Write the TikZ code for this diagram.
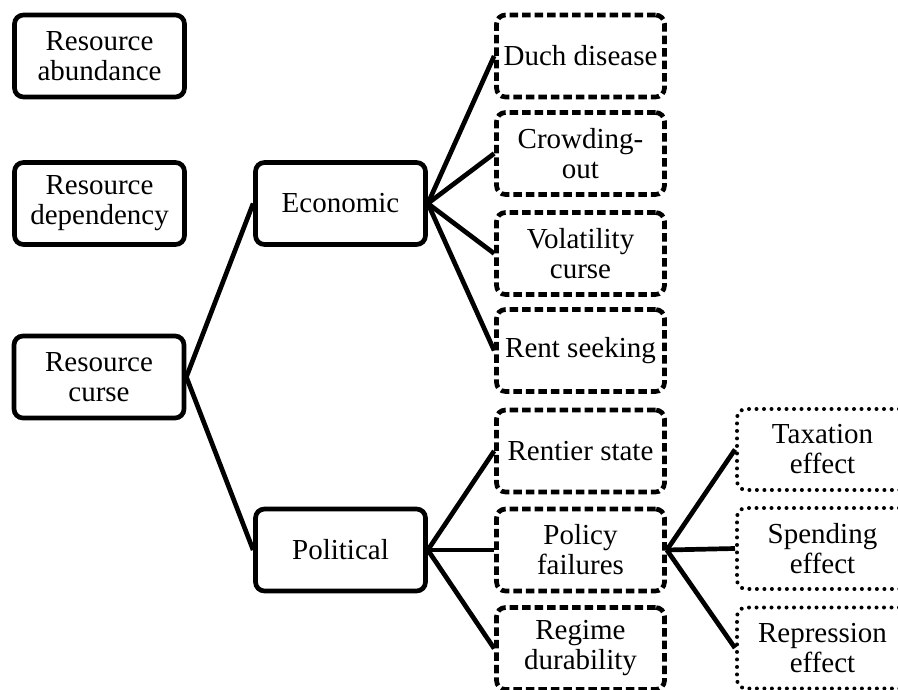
\documentclass[tikz,border=0pt]{standalone}
\usepackage{fontspec}
\setmainfont{Liberation Serif}
\begin{document}
\begin{tikzpicture}[x=1pt,y=-1pt,
  every node/.style={font=\fontsize{29}{30}\selectfont, align=center, inner sep=0pt},
  solidbox/.style={draw, line width=4.7pt, rounded corners=9pt, minimum width=170pt, minimum height=82pt},
  dashbox/.style={draw, line width=4.7pt, rounded corners=9pt, dash pattern=on 8.5pt off 4pt, minimum width=168pt, minimum height=82pt},
  dotbox/.style={draw, line width=4pt, rounded corners=9pt, line cap=round, dash pattern=on 0pt off 7.5pt, minimum width=171pt, minimum height=81pt},
  link/.style={line width=4.7pt}]
\useasboundingbox (0,0) rectangle (898,690);
\node[solidbox] (abund) at (99.5,56) {Resource\\abundance};
\node[solidbox] (dep) at (99.5,203.5) {Resource\\dependency};
\node[solidbox] (curse) at (99,377) {Resource\\curse};
\node[solidbox] (econ) at (340.5,203.5) {Economic};
\node[solidbox] (pol) at (340.5,550) {Political};
\node[dashbox] (duch) at (580.5,56) {Duch disease};
\node[dashbox] (crowd) at (580.5,153.5) {Crowding-\\out};
\node[dashbox] (vol) at (580.5,253.5) {Volatility\\curse};
\node[dashbox] (rent) at (580.5,350.5) {Rent seeking};
\node[dashbox] (rentier) at (580.5,451) {Rentier state};
\node[dashbox] (policy) at (580.5,550) {Policy\\failures};
\node[dashbox] (regime) at (580.5,648.5) {Regime\\durability};
\node[dotbox] (tax) at (822.5,449.5) {Taxation\\effect};
\node[dotbox] (spend) at (822.5,548.5) {Spending\\effect};
\node[dotbox] (repr) at (822.5,648) {Repression\\effect};
\draw[link] (curse.east) -- (econ.west);
\draw[link] (curse.east) -- (pol.west);
\foreach \t in {duch,crowd,vol,rent} \draw[link] (econ.east) -- (\t.west);
\foreach \t in {rentier,policy,regime} \draw[link] (pol.east) -- (\t.west);
\foreach \t in {tax,spend,repr} \draw[link] (policy.east) -- (\t.west);
\end{tikzpicture}
\end{document}
